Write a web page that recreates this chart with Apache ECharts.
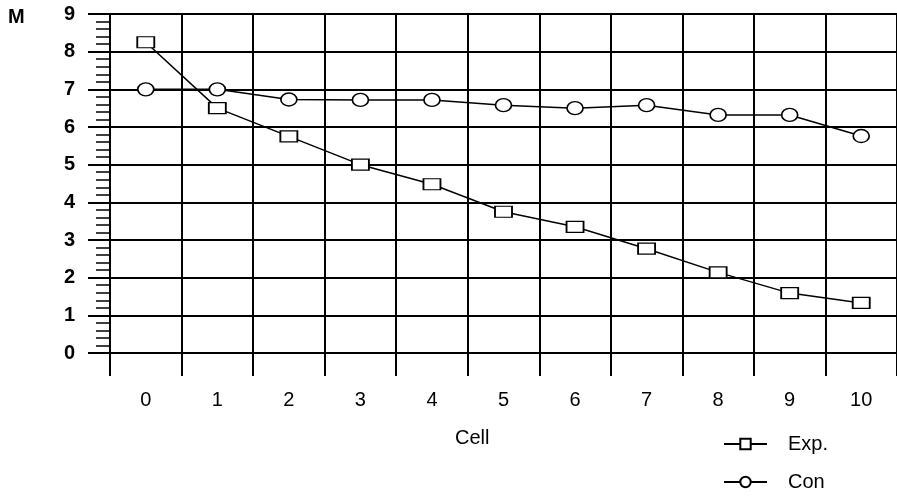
<!DOCTYPE html>
<html>
<head>
<meta charset="utf-8">
<script src="https://cdn.jsdelivr.net/npm/echarts@6/dist/echarts.min.js"></script>
<style>
html,body{margin:0;padding:0;background:#fff;}
#c{width:897px;height:497px;}
</style>
</head>
<body>
<div id="c"></div>
<script>
var categories = ['0','1','2','3','4','5','6','7','8','9','10'];
var expValues = [8.25, 6.5, 5.75, 5.0, 4.48, 3.75, 3.35, 2.77, 2.14, 1.59, 1.33];
var conValues = [7.0, 7.0, 6.73, 6.72, 6.72, 6.58, 6.5, 6.58, 6.32, 6.32, 5.76];
var yTicks = [0,1,2,3,4,5,6,7,8,9];
var seriesNames = ['Exp.', 'Con'];

var FONT = '"Liberation Sans", Arial, sans-serif';
var chart = echarts.init(document.getElementById('c'), null, {renderer:'canvas'});
chart.setOption({
  animation: false,
  backgroundColor: '#fff',
  grid: {left: 110, top: 14, bottom: 144, right: -4, containLabel: false},
  xAxis: {
    type: 'category',
    data: categories,
    boundaryGap: true,
    axisLine: {show: true, lineStyle: {color: '#000', width: 2}},
    axisTick: {show: true, alignWithLabel: false, length: 23, lineStyle: {color: '#000', width: 2}},
    splitLine: {show: true, lineStyle: {color: '#000', width: 2}},
    axisLabel: {color: '#000', fontSize: 20, fontFamily: FONT, margin: 37}
  },
  yAxis: {
    type: 'value',
    min: yTicks[0], max: yTicks[yTicks.length-1], interval: 1,
    axisLine: {show: true, lineStyle: {color: '#000', width: 2}},
    axisTick: {show: true, inside: false, length: 22, lineStyle: {color: '#000', width: 2}},
    minorTick: {show: true, splitNumber: 5, length: 14, lineStyle: {color: '#000', width: 1.5}},
    splitLine: {show: true, lineStyle: {color: '#000', width: 2}},
    axisLabel: {color: '#000', fontSize: 20, fontWeight: 'bold', fontFamily: FONT, margin: 35}
  },
  legend: {
    orient: 'vertical',
    left: 723, top: 434, height: 62,
    itemWidth: 43, itemHeight: 13, itemGap: 18,
    padding: 0,
    data: seriesNames,
    textStyle: {color: '#000', fontSize: 20, fontFamily: FONT, padding: [0,0,0,16]}
  },
  graphic: [
    {type: 'text', left: 8, top: 7, style: {text: 'M', fill: '#000', font: 'bold 20px ' + FONT}},
    {type: 'text', left: 455, top: 428, style: {text: 'Cell', fill: '#000', font: '20px ' + FONT}}
  ],
  series: [
    {
      name: seriesNames[0], type: 'line', data: expValues,
      symbol: 'rect', symbolSize: [17, 11], showAllSymbol: true,
      lineStyle: {color: '#000', width: 1.5},
      itemStyle: {color: '#fff', borderColor: '#000', borderWidth: 1.5},
      z: 5
    },
    {
      name: seriesNames[1], type: 'line', data: conValues,
      symbol: 'circle', symbolSize: [16, 13], showAllSymbol: true,
      lineStyle: {color: '#000', width: 1.5},
      itemStyle: {color: '#fff', borderColor: '#000', borderWidth: 1.5},
      z: 5
    }
  ]
});
</script>
</body>
</html>
